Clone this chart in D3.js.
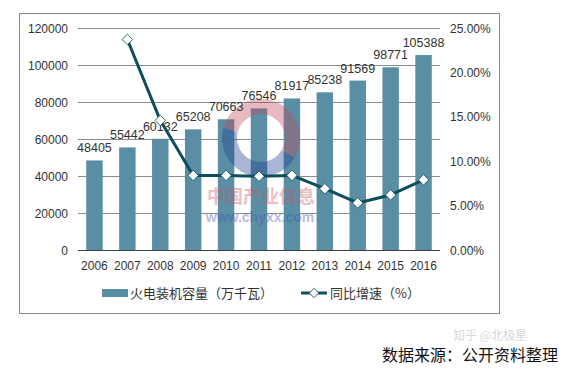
<!DOCTYPE html>
<html>
<head>
<meta charset="utf-8">
<script src="https://cdn.jsdelivr.net/npm/d3@7"></script>
<style>
  body { margin: 0; background: #fff; }
  text { font-family: "Liberation Sans", Arial, "Noto Sans CJK SC", sans-serif; }
</style>
</head>
<body>
<script>
const years    = ['2006', '2007', '2008', '2009', '2010', '2011', '2012', '2013', '2014', '2015', '2016'];
const capacity = [48405, 55442, 60132, 65208, 70663, 76546, 81917, 85238, 91569, 98771, 105388];
const growth   = [null, 0.237, 0.146, 0.084, 0.084, 0.083, 0.084, 0.069, 0.053, 0.062, 0.079];
const leftTicks  = [0, 20000, 40000, 60000, 80000, 100000, 120000];
const rightTicks = [0, 0.05, 0.10, 0.15, 0.20, 0.25];
const barName  = '火电装机容量（万千瓦）';
const lineName = '同比增速（%）';
const source   = '数据来源：公开资料整理';

const width  = 570;
const height = 375;
const barColor  = '#5a8ea4';
const lineColor = '#0e4e5c';

const svg = d3.select('body').append('svg')
  .attr('width', width)
  .attr('height', height);

// outer frame
svg.append('rect')
  .attr('x', 19.5).attr('y', 13.5)
  .attr('width', 480).attr('height', 300)
  .attr('fill', 'none').attr('stroke', '#8a8a8a');

const x = d3.scaleBand()
  .domain(years)
  .range([78, 440])
  .paddingInner(0.5)
  .paddingOuter(0.25);

const y = d3.scaleLinear().domain([0, 120000]).range([250, 28]);
const y2 = d3.scaleLinear().domain([0, 0.25]).range([250, 28]);

// gridlines
svg.append('g').selectAll('line')
  .data(leftTicks.slice(1))
  .enter().append('line')
  .attr('x1', 78).attr('x2', 440)
  .attr('y1', d => Math.round(y(d)) + 0.5)
  .attr('y2', d => Math.round(y(d)) + 0.5)
  .attr('stroke', '#8c8c8c');

// bars
svg.append('g').selectAll('rect')
  .data(capacity)
  .enter().append('rect')
  .attr('x', (d, i) => x(years[i]))
  .attr('y', d => y(d))
  .attr('width', x.bandwidth())
  .attr('height', d => y(0) - y(d))
  .attr('fill', barColor);

// baseline
svg.append('line')
  .attr('x1', 78).attr('x2', 440)
  .attr('y1', 250.5).attr('y2', 250.5)
  .attr('stroke', '#404040');

// watermark logo (sits over the bars, semi transparent)
const wm = svg.append('g').attr('opacity', 0.38);
const ring = d3.arc().innerRadius(24).outerRadius(39);
wm.append('path')
  .attr('transform', 'translate(261,138)')
  .attr('d', ring({startAngle: -1.3, endAngle: 2.1}))
  .attr('fill', '#c24a5c');
wm.append('path')
  .attr('transform', 'translate(261,138)')
  .attr('d', ring({startAngle: 2.1, endAngle: 4.98}))
  .attr('fill', '#1f3f92');
wm.append('text')
  .attr('x', 261).attr('y', 203)
  .attr('text-anchor', 'middle')
  .style('font-family', '"Noto Sans CJK SC", sans-serif')
  .style('font-size', '18px').style('font-weight', 'bold')
  .attr('fill', '#cc5566')
  .text('中国产业信息');
wm.append('text')
  .attr('x', 260).attr('y', 222)
  .attr('text-anchor', 'middle')
  .style('font-size', '14px').style('font-weight', 'bold')
  .attr('fill', '#3f57b0')
  .text('www.chyxx.com');

// bar labels
svg.append('g').selectAll('text')
  .data(capacity)
  .enter().append('text')
  .attr('x', (d, i) => x(years[i]) + x.bandwidth() / 2)
  .attr('y', d => y(d) - 8)
  .attr('text-anchor', 'middle')
  .style('font-size', '12.5px')
  .attr('fill', '#333')
  .text(d => d);

// growth line
const pts = growth.map((g, i) => ({year: years[i], g})).filter(d => d.g !== null);
const line = d3.line()
  .x(d => x(d.year) + x.bandwidth() / 2)
  .y(d => y2(d.g));

svg.append('path')
  .datum(pts)
  .attr('d', line)
  .attr('fill', 'none')
  .attr('stroke', lineColor)
  .attr('stroke-width', 3)
  .attr('stroke-linejoin', 'round');

svg.append('g').selectAll('path')
  .data(pts)
  .enter().append('path')
  .attr('transform', d => 'translate(' + (x(d.year) + x.bandwidth() / 2) + ',' + y2(d.g) + ') rotate(45)')
  .attr('d', d3.symbol().type(d3.symbolSquare).size(55)())
  .attr('fill', '#fff')
  .attr('stroke', lineColor)
  .attr('stroke-width', 0.8);

// left axis labels
svg.append('g').selectAll('text')
  .data(leftTicks)
  .enter().append('text')
  .attr('x', 68)
  .attr('y', d => y(d) + 4.5)
  .attr('text-anchor', 'end')
  .style('font-size', '12px')
  .attr('fill', '#333')
  .text(d => d);

// right axis labels
svg.append('g').selectAll('text')
  .data(rightTicks)
  .enter().append('text')
  .attr('x', 450)
  .attr('y', d => y2(d) + 4.5)
  .style('font-size', '12px')
  .attr('fill', '#333')
  .text(d => d3.format('.2%')(d));

// x labels
svg.append('g').selectAll('text')
  .data(years)
  .enter().append('text')
  .attr('x', d => x(d) + x.bandwidth() / 2)
  .attr('y', 270)
  .attr('text-anchor', 'middle')
  .style('font-size', '12px')
  .attr('fill', '#333')
  .text(d => d);

// legend
const lg = svg.append('g');
lg.append('rect')
  .attr('x', 102).attr('y', 289)
  .attr('width', 26).attr('height', 8)
  .attr('fill', barColor);
lg.append('text')
  .attr('x', 130).attr('y', 298)
  .style('font-family', '"Noto Sans CJK SC", sans-serif')
  .style('font-size', '13px')
  .attr('fill', '#333')
  .text(barName);
lg.append('line')
  .attr('x1', 301).attr('x2', 327)
  .attr('y1', 293).attr('y2', 293)
  .attr('stroke', lineColor).attr('stroke-width', 3);
lg.append('path')
  .attr('transform', 'translate(314,293) rotate(45)')
  .attr('d', d3.symbol().type(d3.symbolSquare).size(45)())
  .attr('fill', '#fff')
  .attr('stroke', lineColor)
  .attr('stroke-width', 0.8);
lg.append('text')
  .attr('x', 330).attr('y', 298)
  .style('font-family', '"Noto Sans CJK SC", sans-serif')
  .style('font-size', '13px')
  .attr('fill', '#333')
  .text(lineName);

// faint site watermark
svg.append('text')
  .attr('x', 453).attr('y', 340)
  .style('font-family', '"Noto Sans CJK SC", sans-serif')
  .style('font-size', '12px')
  .attr('fill', '#d8d8d8')
  .text('知乎 @北极星');

// source
svg.append('text')
  .attr('x', 558).attr('y', 361)
  .attr('text-anchor', 'end')
  .style('font-family', '"Noto Sans CJK SC", sans-serif')
  .style('font-size', '16px')
  .attr('fill', '#111')
  .text(source);
</script>
</body>
</html>
